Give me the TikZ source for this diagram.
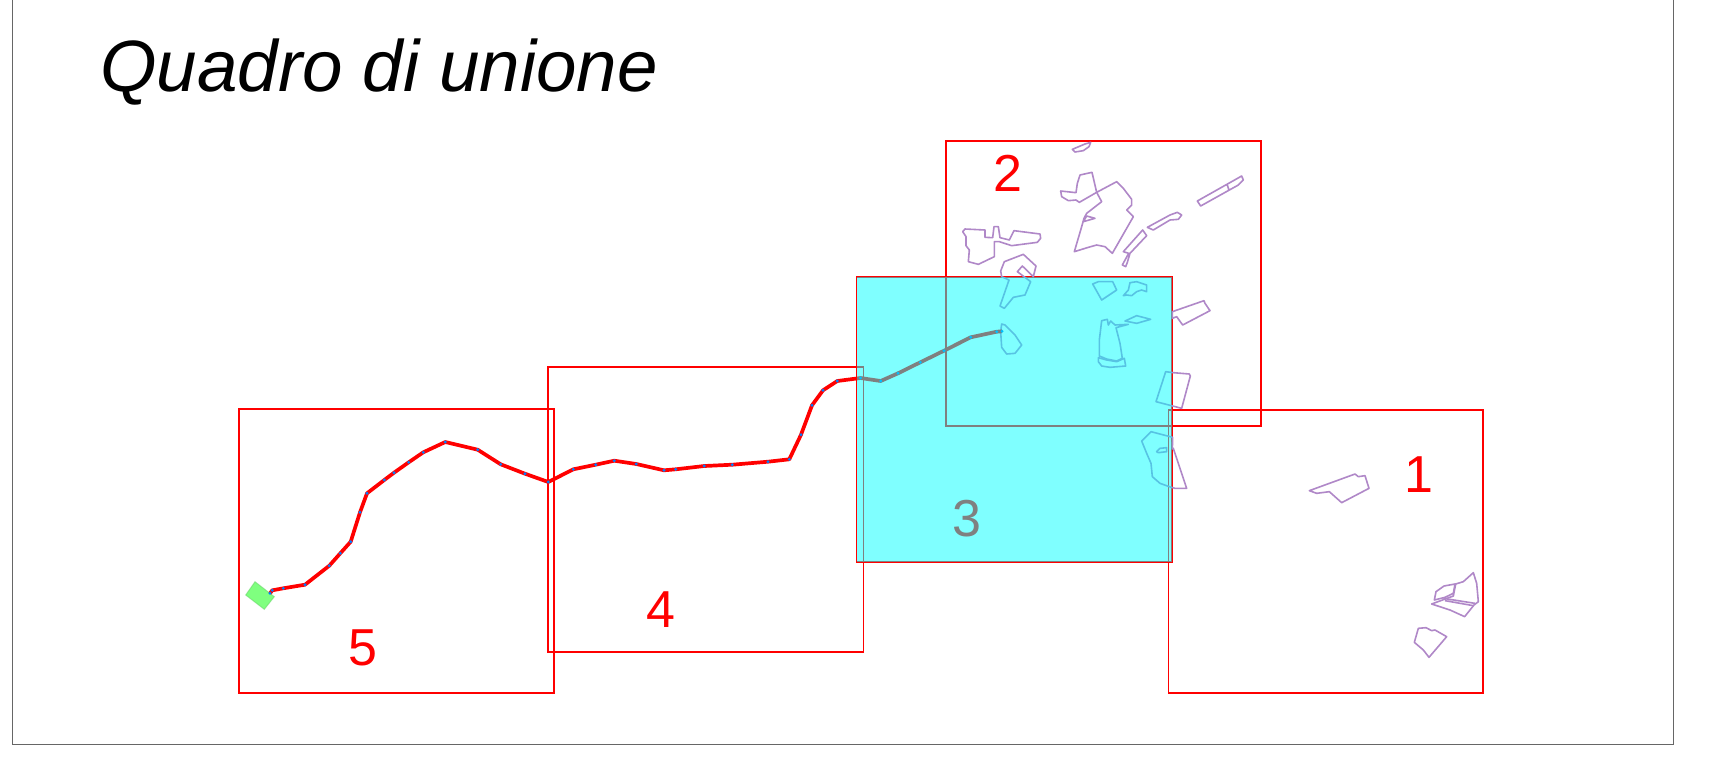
\documentclass[tikz,border=0pt]{standalone}
\usepackage{fontspec}
\setmainfont{Liberation Sans}
\begin{document}
\begin{tikzpicture}[x=1pt,y=-1pt,
  sheet/.style={draw=red,line width=1.8pt},
  parcel/.style={draw=parcelc,line width=1.6pt,line join=round},
  num/.style={text=red,font=\fontsize{52}{52}\selectfont,anchor=base,inner sep=0pt},
  z2/.style={shift={(940,130)},scale=1/3},
  z3/.style={shift={(960,260)},scale=1/3},
  z4/.style={shift={(1120,360)},scale=1/3},
  z5/.style={shift={(1290,460)},scale=1/3}]
\definecolor{parcelc}{RGB}{176,136,200}
\definecolor{dotc}{RGB}{0,128,255}
\definecolor{hilite}{RGB}{0,255,255}
\useasboundingbox (0,0) rectangle (1709,764);
\fill[white] (0,0) rectangle (1709,764);
\draw[draw=black!60,line width=1pt] (12,0) -- (12,744) -- (1673,744) -- (1673,0);
\node[anchor=base west,inner sep=0pt,font=\itshape\fontsize{72.7}{73}\selectfont] (title) at (100,91) {Quadro di unione};
% sheets
\draw[sheet] (1168.5,410) rectangle (1483,693);
\draw[sheet] (946,141) rectangle (1261,425.7);
\draw[sheet] (856.5,277) rectangle (1172,562);
\draw[sheet] (548.2,367.3) rectangle (863.5,652);
\draw[sheet] (239,409.3) rectangle (554.3,693);
% parcels
\begin{scope}[z2]
\draw[parcel] (397,58)--(435,42)--(452,37)--(447,50)--(430,62)--(405,66)--cycle;
\draw[parcel] (362,183)--(408,188)--(412,160)--(420,135)--(456,127)--(470,187)--(418,217)--(408,210)--(385,212)--(365,200)--cycle;
\draw[parcel] (470,187)--(530,155)--(550,175)--(575,208)--(575,225)--(560,240)--(580,260)--(517,370)--(495,350)--(470,345)--(445,352)--(403,365)--(425,290)--(432,265)--(440,250)--(485,215)--cycle;
\draw[parcel] (430,275)--(440,258)--(465,265)--cycle;
\draw[parcel] (68,305)--(75,297)--(135,300)--(135,322)--(158,323)--(162,290)--(175,290)--(180,323)--(208,330)--(222,302)--(300,312)--(302,325)--(292,337)--(215,347)--(178,335)--(163,335)--(163,380)--(115,403)--(85,395)--(88,360)--(78,347)--(78,320)--cycle;
\draw[parcel] (772,213)--(905,138)--(910,150)--(895,165)--(782,228)--cycle (862,165)--(866,178);
\draw[parcel] (622,292)--(690,255)--(712,247)--(725,255)--(715,268)--(690,270)--(640,300)--cycle;
\draw[parcel] (608,300)--(620,317)--(570,370)--(562,397)--(557,410)--(547,405)--(566,370)--(550,365)--cycle;
\end{scope}
\begin{scope}[z3]
\draw[parcel] (125,50)--(122,33)--(133,5)--(190,-17)--(228,18)--(220,50)--(187,18)--(172,35)--(212,65)--(195,105)--(160,112)--(133,145)--(120,138)--(147,60)--cycle;
\draw[parcel] (398,72)--(415,65)--(458,65)--(470,90)--(425,120)--cycle;
\draw[parcel] (490,107)--(505,90)--(510,68)--(530,65)--(560,75)--(560,95)--(545,90)--(530,95)--(515,107)--(500,105)--cycle;
\draw[parcel] (425,182)--(442,178)--(445,195)--(452,183)--(465,195)--(505,193)--(468,203)--(480,250)--(487,295)--(470,303)--(440,297)--(418,288)--(418,240)--cycle;
\draw[parcel] (415,293)--(440,300)--(470,305)--(493,295)--(497,318)--(450,322)--(425,318)--(415,305)--cycle;
\draw[parcel] (495,183)--(530,167)--(572,178)--(530,190)--cycle;
\draw[parcel] (125,192)--(135,195)--(165,225)--(185,255)--(165,280)--(140,282)--(125,262)--(122,215)--cycle;
\draw[parcel] (637,155)--(732,122)--(735,130)--(750,152)--(668,195)--(650,170)--(637,175)--cycle;
\end{scope}
\begin{scope}[z4]
\draw[parcel] (137,35)--(160,38)--(208,42)--(211,48)--(185,145)--(108,125)--cycle;
\draw[parcel] (65,243)--(93,215)--(158,232)--(157,267)--(160,265)--(200,385)--(165,385)--(148,380)--(120,370)--(97,350)--(93,310)--(80,280)--cycle;
\draw[parcel] (110,275)--(120,265)--(140,263)--(140,275)--(115,278)--cycle;
\end{scope}
\begin{scope}[z5]
\draw[parcel] (58,92)--(195,42)--(205,50)--(225,47)--(237,85)--(155,128)--(118,95)--(80,100)--cycle;
\draw[parcel] (497,372)--(520,365)--(550,338)--(560,370)--(565,425)--(552,435)--(524,470)--(480,450)--(425,432)--(490,408)--cycle;
\draw[parcel] (433,420)--(438,395)--(462,378)--(495,372)--(490,400)--(465,412)--cycle;
\draw[parcel] (460,415)--(555,430) (465,422)--(550,437);
\draw[parcel] (373,547)--(385,505)--(408,503)--(425,512)--(435,510)--(470,530)--(417,592)--(400,570)--cycle;
\end{scope}
% green start area
\filldraw[draw=green!70!black!60!white,fill=green,fill opacity=0.5,draw opacity=0.5,line width=1pt] (255,581.7)--(274.3,596.7)--(264.3,609.3)--(245.7,595)--cycle;
% route
\draw[red,line width=3.7pt,line join=round] (270,593.3)--(272.3,590.3)--(283.3,588.3)--(305,584.7)--(329.3,565.7)--(340.3,553.3)--(350.7,541.7)--(360,512.3)--(367,493.3)--(384.3,480)--(394,472.7)--(408.7,462.3)--(423.3,452.3)--(445.3,442)--(477.7,449.7)--(500.7,464.3)--(525,473.7)--(548.3,482)--(573.3,469.3)--(595.7,464.7)--(614.3,460.7)--(636.3,464)--(664,470.3)--(675.7,469.3)--(704.3,466)--(732.3,464.7)--(768,461.7)--(789.3,459.3)--(801,434.7)--(812,405.3)--(823,390.3)--(837.3,381)--(860.5,378)--(880.7,381)--(898,373.3)--(920.3,362.3)--(944,350.7)--(970.7,337.3)--(996.7,331.7)--(1002,331.3);
\foreach \p in {(270,593.3),(272.3,590.3),(283.3,588.3),(305,584.7),(329.3,565.7),(340.3,553.3),(350.7,541.7),(360,512.3),(367,493.3),(384.3,480),(394,472.7),(408.7,462.3),(423.3,452.3),(445.3,442),(477.7,449.7),(500.7,464.3),(525,473.7),(548.3,482),(573.3,469.3),(595.7,464.7),(614.3,460.7),(636.3,464),(664,470.3),(675.7,469.3),(704.3,466),(732.3,464.7),(768,461.7),(789.3,459.3),(801,434.7),(812,405.3),(823,390.3),(837.3,381),(860.5,378),(880.7,381),(898,373.3),(920.3,362.3),(944,350.7),(970.7,337.3),(996.7,331.7),(1002,331.3)}
  \fill[dotc] \p circle[radius=1.6pt];
% numbers
\node[num] (n1) at (1418.5,492.3) {1};
\node[num] (n2) at (1007.5,191) {2};
\node[num] (n3) at (967,536.8) {3};
\node[num] (n4) at (660.5,627) {4};
\node[num] (n5) at (362.5,665) {5};
% cyan highlighted sheet
\fill[hilite,fill opacity=0.5] (856.5,277) rectangle (1172,562);
\end{tikzpicture}
\end{document}
